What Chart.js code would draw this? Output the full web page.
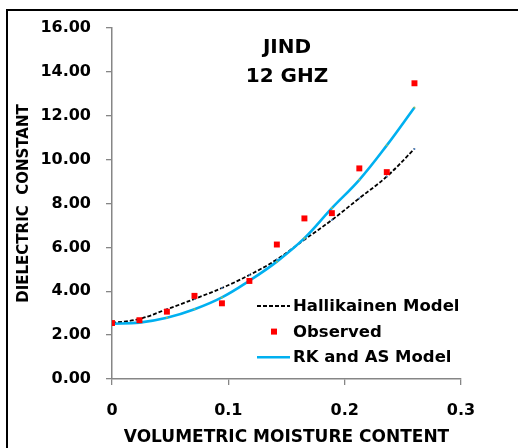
<!DOCTYPE html>
<html>
<head>
<meta charset="utf-8">
<script src="https://cdn.jsdelivr.net/npm/chart.js@4"></script>
<style>
  html, body { margin: 0; padding: 0; background: #fff; }
  #wrap { position: relative; width: 518px; height: 448px; overflow: hidden; }
  #frame { position: absolute; left: 6px; top: 9px; width: 530px; height: 460px;
           border-left: 2px solid #000; border-top: 2px solid #000; pointer-events: none; }
  canvas { position: absolute; left: 0; top: 0; }
</style>
</head>
<body>
<div id="wrap">
  <div id="frame"></div>
  <canvas id="chart" width="518" height="448"></canvas>
</div>
<script>
const moisture = [0, 0.0236, 0.0472, 0.0709, 0.0945, 0.1181, 0.1417, 0.1654, 0.189, 0.2126, 0.2362, 0.26];
const observed = [2.55, 2.68, 3.07, 3.79, 3.45, 4.47, 6.13, 7.32, 7.56, 9.60, 9.43, 13.48];
const hallikainen = [2.55, 2.74, 3.18, 3.65, 4.15, 4.74, 5.45, 6.35, 7.25, 8.24, 9.23, 10.49];
const rkAs = [2.52, 2.57, 2.79, 3.18, 3.72, 4.48, 5.35, 6.42, 7.79, 9.08, 10.65, 12.38];
const titleLines = ['JIND', '12 GHZ'];

const FONT = '"DejaVu Sans"';
const toPoints = ys => moisture.map((x, i) => ({ x: x, y: ys[i] }));

// title and legend are drawn inside the plot area
const overlay = {
  id: 'overlay',
  afterDraw(chart) {
    const ctx = chart.ctx;
    const a = chart.chartArea;
    ctx.save();
    ctx.fillStyle = '#000';
    ctx.textAlign = 'center';
    ctx.textBaseline = 'middle';
    ctx.font = 'bold 20px ' + FONT;
    titleLines.forEach((t, i) => ctx.fillText(t, a.left + 175, a.top + 20 + i * 29));

    const rows = [0, 1, 2].map(i => chart.data.datasets[i]);
    ctx.font = 'bold 16.5px ' + FONT;
    ctx.textAlign = 'left';
    rows.forEach((ds, i) => {
      const y = a.top + 278 + i * 25.6;
      const x0 = a.left + 145;
      if (ds.showLine === false) {
        ctx.fillStyle = ds.backgroundColor;
        ctx.fillRect(x0 + 14, y - 3, 6, 6);
      } else {
        ctx.strokeStyle = ds.borderColor;
        ctx.lineWidth = ds.borderWidth;
        ctx.setLineDash(ds.borderDash || []);
        ctx.beginPath();
        ctx.moveTo(x0, y);
        ctx.lineTo(x0 + 33, y);
        ctx.stroke();
        ctx.setLineDash([]);
      }
      ctx.fillStyle = '#000';
      ctx.fillText(ds.label, x0 + 36, y + 1);
    });
    ctx.restore();
  }
};

new Chart(document.getElementById('chart').getContext('2d'), {
  type: 'scatter',
  data: {
    datasets: [
      {
        label: 'Hallikainen Model',
        data: toPoints(hallikainen),
        showLine: true,
        borderColor: '#000',
        borderWidth: 1.8,
        borderDash: [4, 2],
        tension: 0.4,
        pointRadius: 1,
        pointBackgroundColor: '#4F81BD',
        pointBorderWidth: 0,
        order: 2
      },
      {
        label: 'Observed',
        data: toPoints(observed),
        showLine: false,
        backgroundColor: '#FF0000',
        borderColor: '#FF0000',
        pointStyle: 'rect',
        pointRadius: 4.2,
        pointBorderWidth: 0,
        order: 0
      },
      {
        label: 'RK and AS Model',
        data: toPoints(rkAs),
        showLine: true,
        borderColor: '#00B0F0',
        borderWidth: 2.6,
        tension: 0.4,
        pointRadius: 1,
        pointBackgroundColor: '#9BBB59',
        pointBorderWidth: 0,
        order: 1
      }
    ]
  },
  options: {
    responsive: false,
    animation: false,
    layout: { padding: { left: 0, right: 57, top: 28, bottom: 0 } },
    plugins: { legend: { display: false }, tooltip: { enabled: false } },
    scales: {
      x: {
        type: 'linear',
        min: 0,
        max: 0.3,
        ticks: { stepSize: 0.1, color: '#000', padding: 16, maxRotation: 0,
                 font: { family: FONT, size: 16, weight: 'bold' } },
        grid: { drawOnChartArea: false, drawTicks: true, tickLength: 6, color: '#868686', lineWidth: 1.3 },
        border: { display: true, color: '#868686', width: 1.5 },
        title: { display: true, text: 'VOLUMETRIC MOISTURE CONTENT', color: '#000',
                 font: { family: FONT, size: 17, weight: 'bold' }, padding: { top: 0, bottom: 0 } },
        afterFit(scale) { scale.height = 69; }
      },
      y: {
        min: 0,
        max: 16,
        ticks: { stepSize: 2, color: '#000', padding: 15,
                 font: { family: FONT, size: 16, weight: 'bold' },
                 callback: v => Number(v).toFixed(2) },
        grid: { drawOnChartArea: false, drawTicks: true, tickLength: 6, color: '#868686', lineWidth: 1.3 },
        border: { display: true, color: '#868686', width: 1.5 },
        title: { display: true, text: 'DIELECTRIC  CONSTANT', color: '#000',
                 font: { family: FONT, size: 15, weight: 'bold' }, padding: { top: 15, bottom: 0 } },
        afterFit(scale) { scale.width = 112; }
      }
    }
  },
  plugins: [overlay]
});
</script>
</body>
</html>
